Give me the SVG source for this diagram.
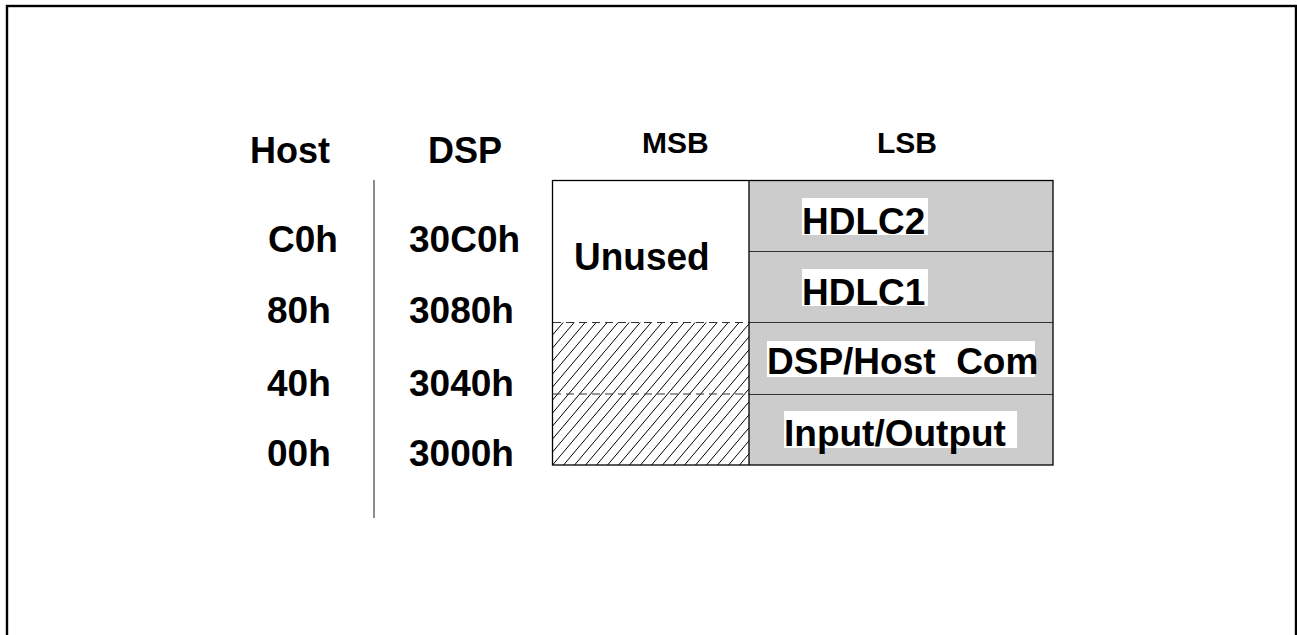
<svg xmlns="http://www.w3.org/2000/svg" width="1297" height="635" viewBox="0 0 1297 635">
<style>
.t{font-family:"Liberation Sans",Arial,sans-serif;font-weight:bold;fill:#000}
.big{font-size:37px}
.hdr{font-size:36px}
.sm{font-size:30px}
.div{stroke:#333;stroke-width:1.2}
.dash{stroke:#333;stroke-width:1.2;stroke-dasharray:8 5}
.wb{fill:#fff}
</style>
<defs>
<pattern id="hatch" patternUnits="userSpaceOnUse" width="11" height="13">
<line x1="-1" y1="14.2" x2="12" y2="-1.2" stroke="#000" stroke-width="1"/>
</pattern>
</defs>
<rect width="1297" height="635" fill="#fff"/>
<rect id="frame" x="7" y="6" width="1289" height="700" fill="none" stroke="#000" stroke-width="2.4"/>

<g id="headers">
<text class="t hdr" x="250" y="163">Host</text>
<text class="t hdr" x="428" y="163">DSP</text>
<text class="t sm" x="642" y="153">MSB</text>
<text class="t sm" x="877" y="153">LSB</text>
</g>

<g id="host-addresses">
<text class="t big" x="268" y="252">C0h</text>
<text class="t big" x="267" y="323">80h</text>
<text class="t big" x="267" y="396">40h</text>
<text class="t big" x="267" y="466">00h</text>
</g>

<g id="dsp-addresses">
<text class="t big" x="409" y="252">30C0h</text>
<text class="t big" x="409" y="323">3080h</text>
<text class="t big" x="409" y="396">3040h</text>
<text class="t big" x="409" y="466">3000h</text>
</g>

<g id="connectors">
<line x1="374" y1="180" x2="374" y2="518" stroke="#666" stroke-width="1.5"/>
</g>

<g id="msb-column">
<rect x="552.5" y="180.5" width="196.5" height="284.5" fill="#fff"/>
<rect x="552.5" y="322.5" width="196.5" height="142.5" fill="url(#hatch)"/>
<line class="dash" x1="553" y1="322.5" x2="749" y2="322.5"/>
<line class="dash" x1="553" y1="394" x2="749" y2="394"/>
<text class="t big" x="574" y="270" transform="translate(0,270) scale(1,1.06) translate(0,-270)">Unused</text>
</g>

<g id="lsb-column">
<rect x="749" y="180.5" width="304" height="284.5" fill="#cccccc"/>
<line class="div" x1="749" y1="251.5" x2="1053" y2="251.5"/>
<line class="div" x1="749" y1="322.5" x2="1053" y2="322.5"/>
<line class="div" x1="749" y1="394.5" x2="1053" y2="394.5"/>
</g>

<g id="hdlc2">
<rect class="wb" x="802" y="198" width="126" height="37"/>
<text class="t big" x="802" y="234">HDLC2</text>
</g>
<g id="hdlc1">
<rect class="wb" x="802" y="269" width="126" height="37"/>
<text class="t big" x="802" y="305">HDLC1</text>
</g>
<g id="dsp-host-com">
<rect class="wb" x="767" y="341" width="268" height="36"/>
<text class="t big" x="767" y="374" xml:space="preserve">DSP/Host  Com</text>
</g>
<g id="input-output">
<rect class="wb" x="784" y="411" width="233" height="37"/>
<text class="t big" x="784" y="446">Input/Output</text>
</g>

<g id="table-border">
<rect x="552.5" y="180.5" width="500.5" height="284.5" fill="none" stroke="#000" stroke-width="1.3"/>
<line x1="749" y1="180.5" x2="749" y2="465" stroke="#000" stroke-width="1.3"/>
</g>
</svg>
